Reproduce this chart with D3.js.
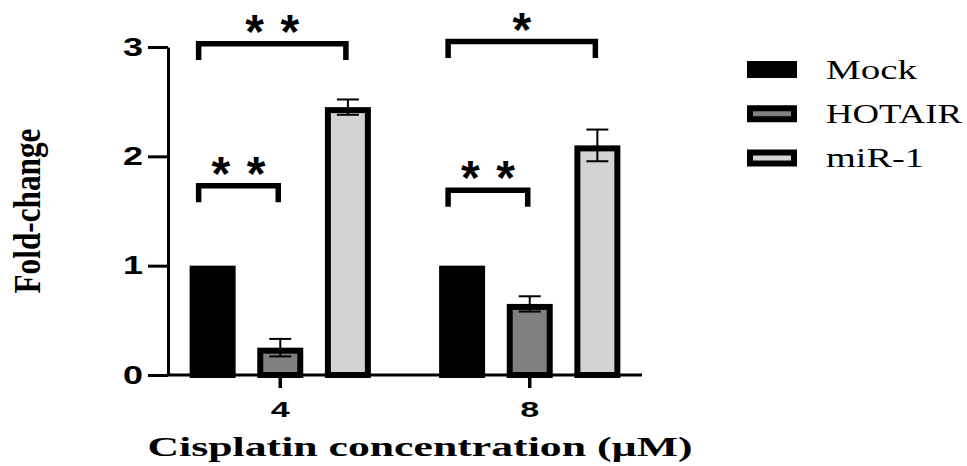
<!DOCTYPE html>
<html>
<head>
<meta charset="utf-8">
<script src="https://cdn.jsdelivr.net/npm/d3@7"></script>
<style>
  body { margin: 0; background: #fff; }
</style>
</head>
<body>
<div id="chart"></div>
<script>
const concentrations = ["4", "8"];
const series = ["Mock", "HOTAIR", "miR-1"];
const mockValues = [1, 1];
const hotairValues = [0.25, 0.65];
const mir1Values = [2.45, 2.1];
const mockErrors = [0, 0];
const hotairErrors = [0.08, 0.07];
const mir1Errors = [0.07, 0.145];
const yTicks = [0, 1, 2, 3];

// significance brackets
const bracketGroups = ["4", "4", "8", "8"];
const bracketFrom = ["Mock", "Mock", "Mock", "Mock"];
const bracketTo = ["miR-1", "HOTAIR", "miR-1", "HOTAIR"];
const bracketLevels = [3.03, 1.73, 3.05, 1.69];
const bracketLabels = ["**", "**", "*", "**"];

const width = 967, height = 466;
const margin = {top: 47, bottom: 91, left: 168, right: 325};

const colors = {"Mock": "#000000", "HOTAIR": "#808080", "miR-1": "#d3d3d3"};
const valuesBySeries = {"Mock": mockValues, "HOTAIR": hotairValues, "miR-1": mir1Values};
const errorsBySeries = {"Mock": mockErrors, "HOTAIR": hotairErrors, "miR-1": mir1Errors};

const data = [];
concentrations.forEach((c, i) => {
  series.forEach(s => {
    data.push({conc: c, series: s, value: valuesBySeries[s][i], err: errorsBySeries[s][i]});
  });
});

const svg = d3.select("#chart")
  .append("svg")
  .attr("width", width)
  .attr("height", height)
  .style("background", "#fff");

const x0 = d3.scaleBand()
  .domain(concentrations)
  .range([margin.left, width - margin.right])
  .paddingInner(0.1)
  .paddingOuter(0);

const x1 = d3.scaleBand()
  .domain(series)
  .range([0, x0.bandwidth()])
  .padding(0.32);

const y = d3.scaleLinear()
  .domain([0, 3])
  .range([height - margin.bottom, margin.top]);

const sans = "'Liberation Sans', Arial, sans-serif";
const serif = "'Liberation Serif', 'Times New Roman', serif";

// bars
const sw = 6;
const groups = svg.selectAll(".grp")
  .data(data)
  .enter()
  .append("g")
  .attr("transform", d => `translate(${x0(d.conc)},0)`);

groups.append("rect")
  .attr("x", d => x1(d.series) + sw / 2)
  .attr("y", d => y(d.value) + sw / 2)
  .attr("width", x1.bandwidth() - sw)
  .attr("height", d => y(0) - y(d.value) - sw / 2)
  .attr("fill", d => colors[d.series])
  .attr("stroke", "#000")
  .attr("stroke-width", sw);

// error bars
const eb = groups.filter(d => d.err > 0).append("g")
  .attr("stroke", "#000")
  .attr("stroke-width", 2);
const cx = d => x1(d.series) + x1.bandwidth() / 2;
eb.append("line")
  .attr("x1", cx).attr("x2", cx)
  .attr("y1", d => y(d.value + d.err)).attr("y2", d => y(d.value - d.err));
eb.append("line")
  .attr("x1", d => cx(d) - 11).attr("x2", d => cx(d) + 11)
  .attr("y1", d => y(d.value + d.err)).attr("y2", d => y(d.value + d.err));
eb.append("line")
  .attr("x1", d => cx(d) - 11).attr("x2", d => cx(d) + 11)
  .attr("y1", d => y(d.value - d.err)).attr("y2", d => y(d.value - d.err));

// axes
const yAxis = svg.append("g")
  .attr("transform", `translate(${margin.left},0)`)
  .call(d3.axisLeft(y).tickValues(yTicks).tickFormat(d3.format("d")).tickSize(20).tickPadding(5).tickSizeOuter(0));
yAxis.select(".domain").attr("stroke-width", 3);
yAxis.selectAll(".tick line").attr("stroke-width", 3);
yAxis.selectAll("text")
  .style("font-family", sans)
  .style("font-weight", "bold")
  .style("font-size", "25px")
  .attr("textLength", 20)
  .attr("lengthAdjust", "spacingAndGlyphs");

const xAxis = svg.append("g")
  .attr("transform", `translate(0,${y(0)})`)
  .call(d3.axisBottom(x0).tickSize(13).tickPadding(13).tickSizeOuter(0));
xAxis.select(".domain").attr("stroke-width", 3).attr("d", `M${margin.left - 1.5},0H${width - margin.right}`);
xAxis.selectAll(".tick line").attr("stroke-width", 3.5);
xAxis.selectAll("text")
  .style("font-family", sans)
  .style("font-weight", "bold")
  .style("font-size", "22px")
  .attr("textLength", 19)
  .attr("lengthAdjust", "spacingAndGlyphs");

// brackets
const legLen = 0.15;
bracketLevels.forEach((lvl, i) => {
  const g = bracketGroups[i];
  const xl = x0(g) + x1(bracketFrom[i]) + x1.bandwidth() / 2 - 14;
  const xr = x0(g) + x1(bracketTo[i]) + x1.bandwidth() / 2 - 2;
  const yt = y(lvl), yb = y(lvl - legLen);
  svg.append("path")
    .attr("d", `M${xl},${yb}V${yt}H${xr}V${yb}`)
    .attr("fill", "none")
    .attr("stroke", "#000")
    .attr("stroke-width", 5.5)
    .attr("stroke-linejoin", "miter");
  const lbl = svg.append("text")
    .attr("x", (xl + xr) / 2)
    .attr("y", yt + 4)
    .attr("text-anchor", "middle")
    .style("font-family", sans)
    .style("font-weight", "bold")
    .style("font-size", "48px")
    .text(bracketLabels[i]);
  if (bracketLabels[i].length > 1) {
    lbl.attr("textLength", 54).attr("lengthAdjust", "spacing");
  }
});

// axis titles
svg.append("text")
  .attr("x", 420)
  .attr("y", 456)
  .attr("text-anchor", "middle")
  .style("font-family", serif)
  .style("font-weight", "bold")
  .style("font-size", "28px")
  .attr("textLength", 545)
  .attr("lengthAdjust", "spacingAndGlyphs")
  .text("Cisplatin concentration (µM)");

svg.append("text")
  .attr("transform", "translate(40,211) rotate(-90)")
  .attr("text-anchor", "middle")
  .style("font-family", serif)
  .style("font-weight", "bold")
  .style("font-size", "38px")
  .attr("textLength", 165)
  .attr("lengthAdjust", "spacingAndGlyphs")
  .text("Fold-change");

// legend
const legY = d3.scalePoint().domain(series).range([69.5, 158]);
const legendLengths = {"Mock": 91, "HOTAIR": 136, "miR-1": 98};
series.forEach(s => {
  const lw = s === "Mock" ? 0 : 6;
  svg.append("rect")
    .attr("x", 747 + lw / 2)
    .attr("y", legY(s) - 8.5 + lw / 2)
    .attr("width", 50 - lw)
    .attr("height", 17 - lw)
    .attr("fill", colors[s])
    .attr("stroke", "#000")
    .attr("stroke-width", lw);
  svg.append("text")
    .attr("x", 826)
    .attr("y", legY(s) + 9)
    .style("font-family", serif)
    .style("font-size", "28px")
    .attr("textLength", legendLengths[s])
    .attr("lengthAdjust", "spacingAndGlyphs")
    .text(s);
});
</script>
</body>
</html>
